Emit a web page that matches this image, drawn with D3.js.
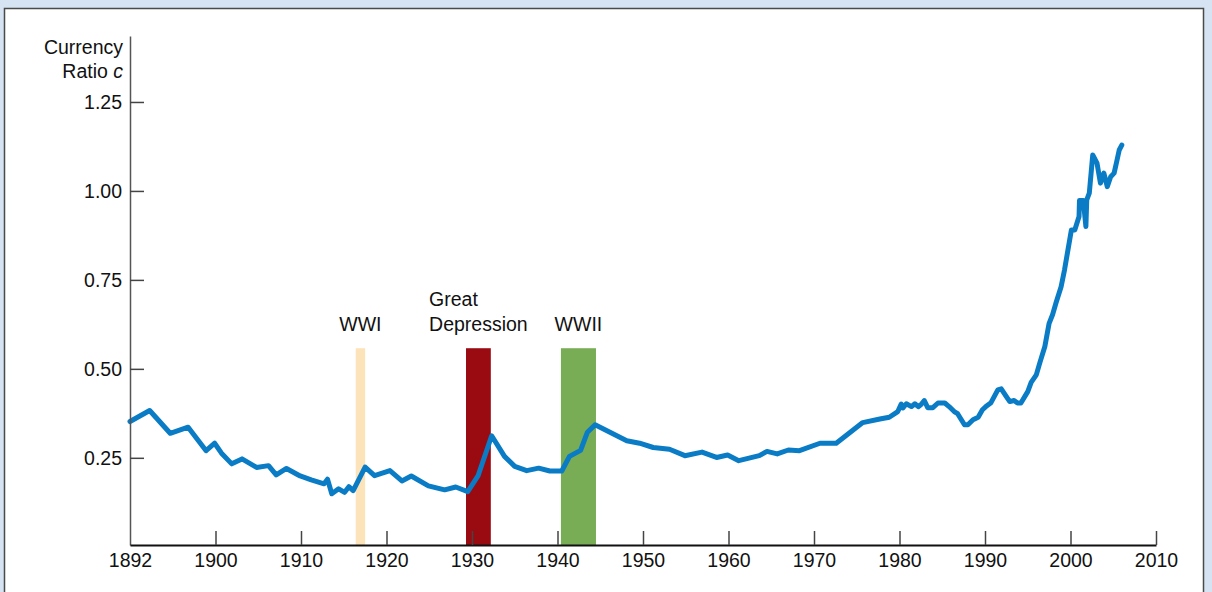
<!DOCTYPE html>
<html>
<head>
<meta charset="utf-8">
<script src="https://cdn.jsdelivr.net/npm/d3@7"></script>
<style>
	html, body { margin: 0; padding: 0; background: #d6e3f2; }
	svg { display: block; }
</style>
</head>
<body>
<div id="chart"></div>
<script>

// currency ratio c
var years = [
	1890.0, 1892.3, 1894.7, 1896.8, 1898.9, 1899.9, 1900.7, 1901.9, 1903.1, 1904.8,
	1906.2, 1907.1, 1908.3, 1909.9, 1911.2, 1912.7, 1913.1, 1913.6, 1914.4, 1915.1,
	1915.6, 1916.1, 1917.5, 1918.6, 1920.4, 1921.8, 1922.9, 1924.9, 1926.8, 1928.1,
	1929.5, 1930.7, 1932.3, 1933.8, 1935.0, 1936.4, 1937.8, 1939.1, 1940.5, 1941.4,
	1942.7, 1943.5, 1944.4, 1948.1, 1949.6, 1951.2, 1953.1, 1954.9, 1956.9, 1958.6,
	1959.9, 1961.2, 1963.6, 1964.5, 1965.7, 1967.0, 1968.3, 1970.7, 1972.6, 1975.7,
	1977.7, 1978.8, 1979.8, 1980.2, 1980.4, 1980.8, 1981.4, 1981.8, 1982.2, 1982.5,
	1982.9, 1983.3, 1983.9, 1984.5, 1985.3, 1985.8, 1986.4, 1986.8, 1987.6, 1988.0,
	1988.6, 1989.2, 1989.7, 1990.1, 1990.7, 1991.5, 1991.9, 1992.5, 1992.9, 1993.4,
	1993.8, 1994.2, 1995.0, 1995.4, 1996.0, 1996.4, 1997.0, 1997.5, 1997.9, 1998.3,
	1998.9, 1999.3, 1999.7, 2000.1, 2000.5, 2001.0, 2001.05, 2001.5, 2001.8, 2001.9,
	2002.2, 2002.6, 2003.1, 2003.5, 2003.9, 2004.3, 2004.7, 2005.1, 2005.4, 2005.7,
	2006.0
];

var ratios = [
	0.352, 0.383, 0.319, 0.336, 0.270, 0.291, 0.263, 0.233, 0.247, 0.223,
	0.228, 0.202, 0.220, 0.199, 0.188, 0.177, 0.190, 0.149, 0.163, 0.153,
	0.169, 0.158, 0.224, 0.200, 0.214, 0.185, 0.199, 0.171, 0.160, 0.168,
	0.155, 0.199, 0.312, 0.254, 0.226, 0.214, 0.221, 0.213, 0.213, 0.254,
	0.271, 0.322, 0.343, 0.298, 0.291, 0.279, 0.274, 0.256, 0.266, 0.251,
	0.258, 0.242, 0.256, 0.268, 0.261, 0.272, 0.270, 0.291, 0.291, 0.349,
	0.359, 0.364, 0.380, 0.401, 0.390, 0.402, 0.394, 0.402, 0.394, 0.399,
	0.411, 0.391, 0.391, 0.404, 0.404, 0.394, 0.380, 0.374, 0.343, 0.343,
	0.357, 0.364, 0.385, 0.394, 0.405, 0.441, 0.444, 0.422, 0.408, 0.411,
	0.404, 0.404, 0.436, 0.462, 0.483, 0.516, 0.563, 0.628, 0.652, 0.685,
	0.731, 0.778, 0.834, 0.890, 0.890, 0.928, 0.973, 0.973, 0.900, 0.975,
	0.994, 1.101, 1.078, 1.022, 1.050, 1.012, 1.040, 1.050, 1.082, 1.115,
	1.129
];

// shaded periods
var periodNames = [['WWI'], ['Great', 'Depression'], ['WWII']];
var periodStart = [1916.4, 1929.3, 1940.4];
var periodEnd   = [1917.5, 1932.2, 1944.5];
var periodTop   = 0.558;

// axis ticks
var xTickValues = [1890, 1900, 1910, 1920, 1930, 1940, 1950, 1960, 1970, 1980, 1990, 2000, 2010];
var xTickLabels = ['1892', '1900', '1910', '1920', '1930', '1940', '1950', '1960', '1970', '1980', '1990', '2000', '2010'];
var yTickValues = [0.25, 0.50, 0.75, 1.00, 1.25];
var yTickLabels = ['0.25', '0.50', '0.75', '1.00', '1.25'];


var width = 1212;
var height = 592;
var font = '"Liberation Sans", Arial, Helvetica, sans-serif';
var fontSize = 19.5;

var periodColors = ['#fde3b9', '#990a11', '#78ad56'];
var lineColor = '#0a7bc5';

var svg = d3.select('#chart')
		.append('svg')
		.attr('width', width)
		.attr('height', height);

// white panel with frame
svg.append('rect')
		.attr('x', 4.5)
		.attr('y', 8.5)
		.attr('width', 1199)
		.attr('height', 620)
		.attr('fill', '#fff')
		.attr('stroke', '#4a4a4a')
		.attr('stroke-width', 1.5);

var x = d3.scaleLinear()
		.domain([1890, 2010])
		.range([130, 1156]);

var y = d3.scaleLinear()
		.domain([0.005, 1.4354])
		.range([545, 36]);


// periods
var bands = svg.append('g');

bands.selectAll('rect')
		.data(periodStart)
		.enter()
		.append('rect')
		.attr('x', function (d) { return x(d); })
		.attr('y', y(periodTop))
		.attr('width', function (d, i) { return x(periodEnd[i]) - x(d); })
		.attr('height', y(0.005) - y(periodTop))
		.attr('fill', function (d, i) { return periodColors[i]; });

// period labels: lines share a left edge, block centred on band
periodNames.forEach(function (lines, i) {
	var cx = (x(periodStart[i]) + x(periodEnd[i])) / 2;
	var g = bands.append('g');
	var n = lines.length;
	var texts = lines.map(function (t, j) {
		return g.append('text')
				.attr('y', 331 - (n - 1 - j) * 25)
				.attr('font-family', font)
				.attr('font-size', fontSize + 'px')
				.attr('fill', '#111')
				.text(t);
	});
	var w = d3.max(texts, function (t) { return t.node().getComputedTextLength(); });
	texts.forEach(function (t) { t.attr('x', cx - w / 2); });
});


// line
var line = d3.line()
		.x(function (d) { return x(d); })
		.y(function (d, i) { return y(ratios[i]); });

svg.append('path')
		.datum(years)
		.attr('d', line)
		.attr('fill', 'none')
		.attr('stroke', lineColor)
		.attr('stroke-width', 5)
		.attr('stroke-linejoin', 'round')
		.attr('stroke-linecap', 'round');


// y axis
var yAxis = d3.axisLeft(y)
		.tickValues(yTickValues)
		.tickFormat(function (d, i) { return yTickLabels[i]; })
		.tickSizeInner(-14)
		.tickSizeOuter(0)
		.tickPadding(8);

var gy = svg.append('g')
		.attr('transform', 'translate(' + 130 + ',0)')
		.call(yAxis);

gy.select('.domain').attr('stroke', '#555').attr('stroke-width', 1.5);
gy.selectAll('.tick line').attr('stroke', '#444').attr('stroke-width', 1.5);
gy.selectAll('.tick text')
		.attr('font-family', font)
		.attr('font-size', fontSize + 'px')
		.attr('fill', '#111');

// x axis
var xAxis = d3.axisBottom(x)
		.tickValues(xTickValues)
		.tickFormat(function (d, i) { return xTickLabels[i]; })
		.tickSizeInner(-14)
		.tickSizeOuter(0)
		.tickPadding(8);

var gx = svg.append('g')
		.attr('transform', 'translate(0,' + 545 + ')')
		.call(xAxis);

gx.select('.domain').attr('stroke', '#111').attr('stroke-width', 2.2);
gx.selectAll('.tick line')
		.attr('stroke', '#444')
		.attr('stroke-width', 1.5)
		.attr('display', function (d, i) { return i === 0 ? 'none' : null; });
gx.selectAll('.tick text')
		.attr('font-family', font)
		.attr('font-size', fontSize + 'px')
		.attr('fill', '#111');


// axis title
var title = svg.append('text')
		.attr('text-anchor', 'end')
		.attr('font-family', font)
		.attr('font-size', fontSize + 'px')
		.attr('fill', '#111');

title.append('tspan')
		.attr('x', 123)
		.attr('y', 54)
		.text('Currency');

var t2 = title.append('tspan')
		.attr('x', 123)
		.attr('y', 78)
		.text('Ratio ');

t2.append('tspan')
		.attr('font-style', 'italic')
		.text('c');

</script>
</body>
</html>
